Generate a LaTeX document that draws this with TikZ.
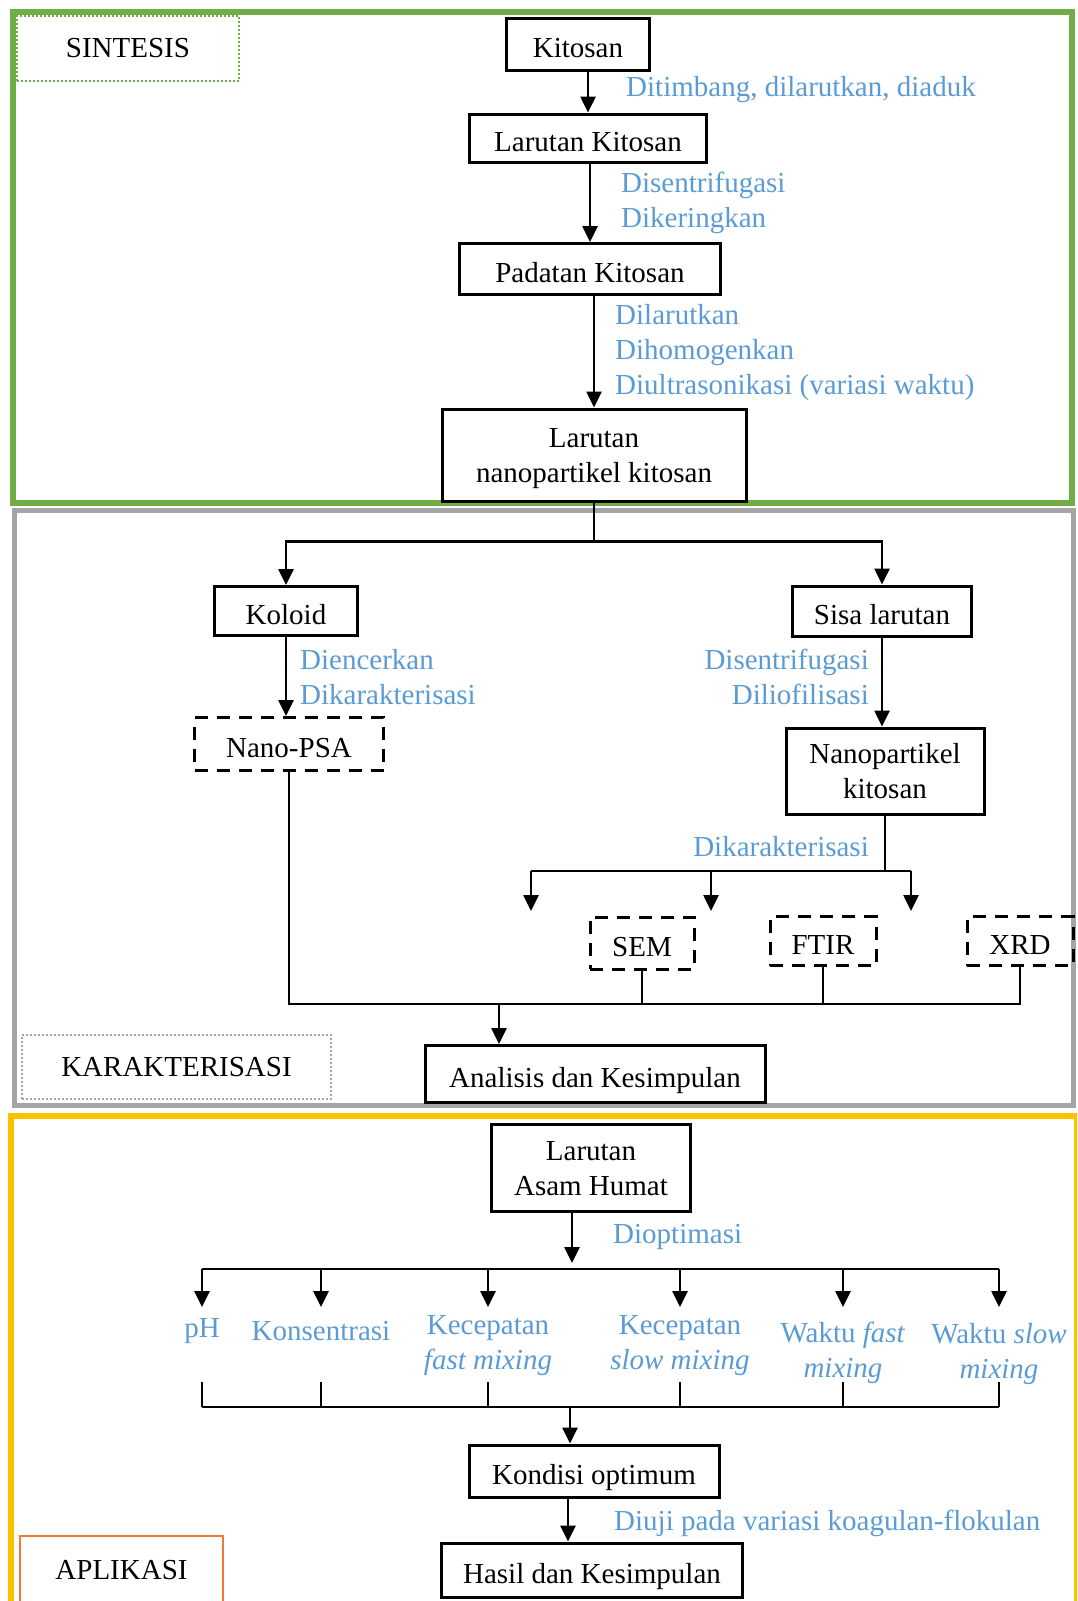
\documentclass[tikz,border=0pt]{standalone}
\usepackage{fontspec}
\setmainfont{Liberation Serif}
\usetikzlibrary{arrows.meta}
\definecolor{sintesisgreen}{RGB}{112,173,71}
\definecolor{karakgray}{RGB}{165,165,165}
\definecolor{aplikasigold}{RGB}{255,192,0}
\definecolor{aplikasiorange}{RGB}{237,125,49}
\definecolor{stepblue}{RGB}{91,155,213}

\begin{document}
\begin{tikzpicture}[x=1pt,y=-1pt,
  font=\fontsize{29}{35}\selectfont,
  box/.style={draw, line width=3pt, inner sep=0pt, align=center, text depth=0pt,
    execute at begin node={\rule{0pt}{26pt}}},
  dbox/.style={box, dash pattern=on 13pt off 9pt},
  tag/.style={draw, line width=2pt, inner sep=0pt},
  note/.style={text=stepblue, inner sep=0pt, align=left},
  arr/.style={line width=2.6pt, -{Triangle[length=16pt,width=15pt]}},
  bus/.style={line width=2pt},
  wire/.style={line width=1.2pt}]
\useasboundingbox (0,0) rectangle (1077,1601);
\clip (0,0) rectangle (1077,1601);

\draw[sintesisgreen, line width=6pt] (12.5,11.5) rectangle (1072,503);
\draw[karakgray, line width=5pt] (14,510) rectangle (1073,1105);
\draw[aplikasigold, line width=6pt] (10.5,1116) rectangle (1077,1625);

\node[tag, sintesisgreen, dash pattern=on 2pt off 2pt, text=black, minimum width=222, minimum height=65] (sintesis) at (128,48.5) {SINTESIS};
\node[tag, karakgray, dash pattern=on 2pt off 2pt, text=black, minimum width=309, minimum height=64] (karak) at (176.5,1067) {KARAKTERISASI};
\node[tag, aplikasiorange, text=black, minimum width=203, minimum height=68] (aplikasi) at (121.5,1570) {APLIKASI};

\node[box, minimum width=143, minimum height=52] (kitosan) at (578,44) {Kitosan};
\node[box, minimum width=237, minimum height=48] (lkitosan) at (588,138) {Larutan Kitosan};
\node[box, minimum width=261, minimum height=51] (padatan) at (590,269) {Padatan Kitosan};
\node[box, minimum width=304, minimum height=92] (lnano) at (594,455) {Larutan\\nanopartikel kitosan};

\node[note, anchor=west] (timbang) at (626,90) {Ditimbang, dilarutkan, diaduk};
\node[note, anchor=west] (sentri1) at (621,203) {Disentrifugasi\\Dikeringkan};
\node[note, anchor=west] (larut) at (615,353) {Dilarutkan\\Dihomogenkan\\Diultrasonikasi (variasi waktu)};

\draw[arr] (kitosan.south -| lkitosan) -- (lkitosan);
\draw[arr] (lkitosan.south -| padatan) -- (padatan);
\draw[arr] (padatan.south -| lnano) -- (lnano);

\node[box, minimum width=143, minimum height=49] (koloid) at (286,611) {Koloid};
\node[box, minimum width=179, minimum height=50] (sisa) at (882,611) {Sisa larutan};
\node[dbox, minimum width=189, minimum height=53] (psa) at (289,744) {Nano-PSA};
\node[box, minimum width=198, minimum height=86] (npk) at (885,771) {Nanopartikel\\kitosan};
\node[dbox, minimum width=104, minimum height=52] (sem) at (642,943) {SEM};
\node[dbox, minimum width=106, minimum height=49] (ftir) at (823,941) {FTIR};
\node[dbox, minimum width=106, minimum height=49] (xrd) at (1020,941) {XRD};
\node[box, minimum width=340, minimum height=57] (analisis) at (595,1074) {Analisis dan Kesimpulan};

\node[note, anchor=west] (encer) at (300,677) {Diencerkan\\Dikarakterisasi};
\node[note, anchor=east, align=right] (sentri2) at (869,677) {Disentrifugasi\\Diliofilisasi};
\node[note, anchor=east] (karakt) at (869,847) {Dikarakterisasi};

\draw[wire] (lnano.south) -- ++(0,39) coordinate (fork);
\draw[arr] (fork) -| (koloid);
\draw[arr] (fork) -| (sisa);
\draw[arr] (koloid.south) -- (koloid.south |- psa.north);
\draw[arr] (sisa.south) -- (sisa.south |- npk.north);

\coordinate (c1) at (531,911);
\coordinate (c2) at (711,911);
\coordinate (c3) at (911,911);
\draw[wire] (npk.south) -- ++(0,55) coordinate (fork2);
\draw[bus] (c1 |- fork2) -- (c3 |- fork2);
\foreach \c in {c1,c2,c3}
  \draw[arr] (\c |- fork2) -- (\c);

\coordinate (join) at (499,1004);
\draw[wire] (psa.south) -- (psa.south |- join) -- (xrd.south |- join) -- (xrd.south);
\draw[wire] (sem.south) -- (sem.south |- join);
\draw[wire] (ftir.south) -- (ftir.south |- join);
\draw[arr] (join) -- (join |- analisis.north);

\node[box, minimum width=199, minimum height=87] (asam) at (591,1168) {Larutan\\Asam Humat};
\node[box, minimum width=250, minimum height=52] (kondisi) at (594,1471) {Kondisi optimum};
\node[box, minimum width=301, minimum height=54] (hasil) at (592,1570) {Hasil dan Kesimpulan};

\node[note, anchor=west] (optim) at (613,1237) {Dioptimasi};
\node[note, anchor=west] (uji) at (614,1523) {Diuji pada variasi koagulan-flokulan};

\node[note, align=center] (ph) at (202,1331) {pH};
\node[note, align=center] (konsen) at (321,1331) {Konsentrasi};
\node[note, align=center] (kfast) at (488,1346) {Kecepatan\\\textit{fast mixing}};
\node[note, align=center] (kslow) at (680,1346) {Kecepatan\\\textit{slow mixing}};
\node[note, align=center] (wfast) at (843,1353) {Waktu \textit{fast}\\\textit{mixing}};
\node[note, align=center] (wslow) at (999,1354) {Waktu \textit{slow}\\\textit{mixing}};

\coordinate (fork3) at (572,1269);
\coordinate (optend) at (0,1307);
\coordinate (tickrow) at (0,1382);
\coordinate (merge) at (570,1407);
\draw[arr] (asam.south -| fork3) -- ++(0,50);
\draw[bus] (ph |- fork3) -- (wslow |- fork3);
\foreach \n in {ph,konsen,kfast,kslow,wfast,wslow}
  \draw[arr] (\n |- fork3) -- (\n |- optend);
\foreach \n in {ph,konsen,kfast,kslow,wfast,wslow}
  \draw[wire] (\n |- tickrow) -- (\n |- merge);
\draw[bus] (ph |- merge) -- (wslow |- merge);
\draw[arr] (merge) -- (merge |- kondisi.north);
\draw[arr] ([xshift=-26pt]kondisi.south) -- ([xshift=-26pt]kondisi.south |- hasil.north);
\end{tikzpicture}
\end{document}
